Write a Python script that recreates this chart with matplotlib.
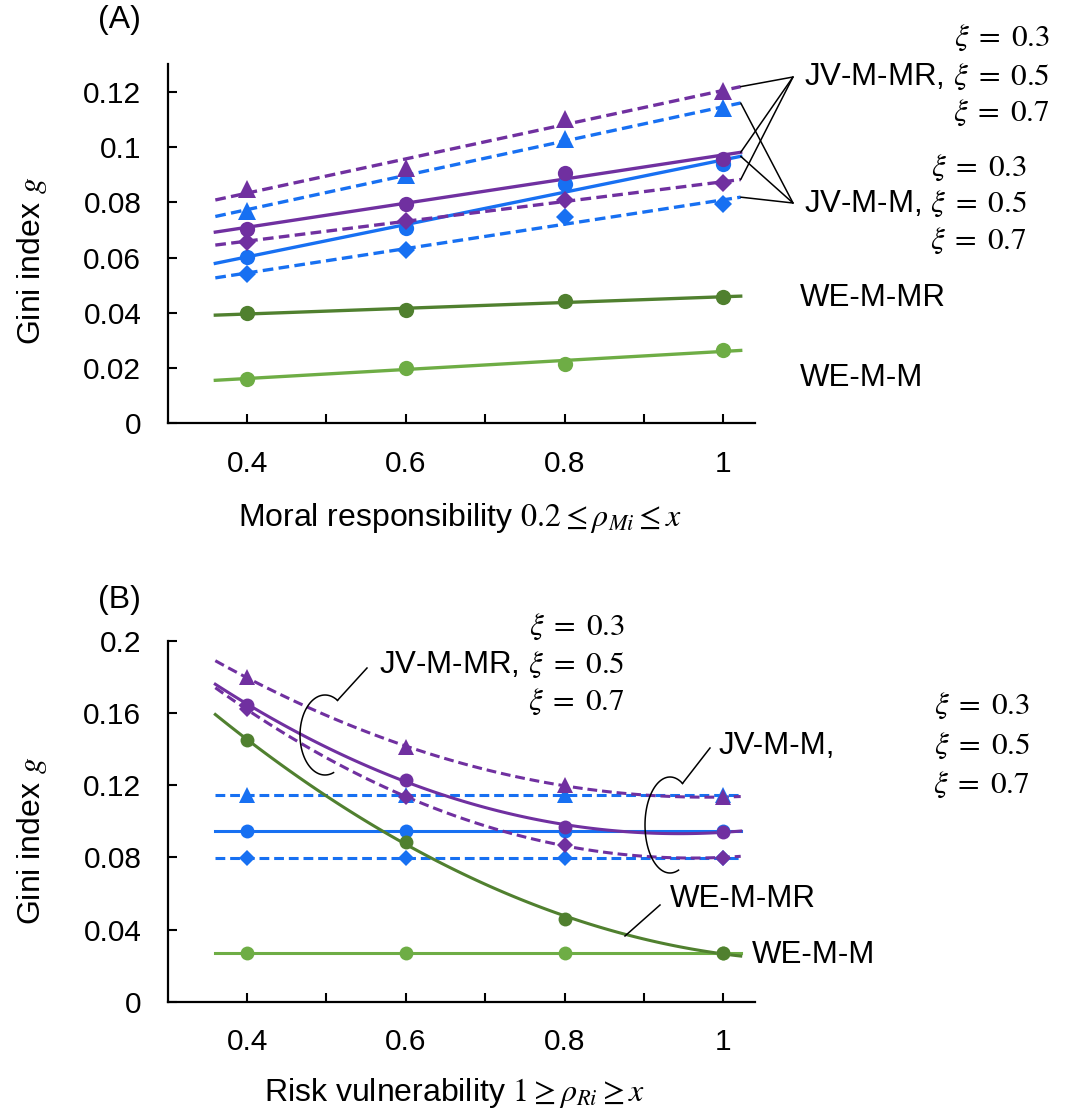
import numpy as np
import matplotlib
matplotlib.use("Agg")
import matplotlib.pyplot as plt
from matplotlib.lines import Line2D

plt.rcParams['font.family'] = ['Liberation Sans', 'DejaVu Sans']
plt.rcParams['mathtext.fontset'] = 'stix'

W, H = 1070, 1110

x_pts = [0.4, 0.6, 0.8, 1.0]

# (A) Gini index against moral responsibility
a_mr_03 = [0.0848, 0.0926, 0.1101, 0.1203]
a_mr_05 = [0.0704, 0.0794, 0.0908, 0.0957]
a_mr_07 = [0.0656, 0.0734, 0.0809, 0.0870]
a_m_03 = [0.0770, 0.0900, 0.1029, 0.1141]
a_m_05 = [0.0602, 0.0706, 0.0866, 0.0939]
a_m_07 = [0.0539, 0.0628, 0.0746, 0.0794]
a_we_mr = [0.0399, 0.0409, 0.0443, 0.0457]
a_we_m = [0.0162, 0.0202, 0.0214, 0.0267]

# (B) Gini index against risk vulnerability
b_mr_03 = [0.1798, 0.1412, 0.1203, 0.1133]
b_mr_05 = [0.1647, 0.1231, 0.0971, 0.0943]
b_mr_07 = [0.1621, 0.1133, 0.0869, 0.0799]
b_m_03 = [0.1145, 0.1145, 0.1145, 0.1145]
b_m_05 = [0.0944, 0.0944, 0.0944, 0.0944]
b_m_07 = [0.0799, 0.0799, 0.0799, 0.0799]
b_we_mr = [0.1449, 0.0888, 0.0461, 0.0270]
b_we_m = [0.0270, 0.0270, 0.0270, 0.0270]

xtick_vals = [0.4, 0.5, 0.6, 0.7, 0.8, 0.9, 1.0]
xtick_labels = ['0.4', '', '0.6', '', '0.8', '', '1']
a_ytick_vals = [0, 0.02, 0.04, 0.06, 0.08, 0.1, 0.12]
a_ytick_labels = ['0', '0.02', '0.04', '0.06', '0.08', '0.1', '0.12']
b_ytick_vals = [0, 0.04, 0.08, 0.12, 0.16, 0.2]
b_ytick_labels = ['0', '0.04', '0.08', '0.12', '0.16', '0.2']

PURPLE = '#7030A0'
BLUE = '#1770F2'
DKGREEN = '#50802F'
LTGREEN = '#6EAD45'
DASH = (0, (3.2, 1.6))
XI = r'$\xi\;=\;%s$'


def fx(px):
    return px / W


def fy(py):
    return 1 - py / H


def trend(ax, vals, color, marker, ls, deg, ms, lw=2.4):
    coef = np.polyfit(x_pts, vals, deg)
    xs = np.linspace(0.36, 1.022, 120)
    ys = np.polyval(coef, xs)
    ax.plot(xs, ys, color=color, lw=lw, ls=ls, zorder=2)
    ax.plot(x_pts, vals, ls='none', marker=marker, color=color, ms=ms,
            markeredgewidth=0, zorder=3)
    return xs[-1], ys[-1]


def style(ax, yticks, ylabels, ymax):
    for s in ['top', 'right']:
        ax.spines[s].set_visible(False)
    for s in ['left', 'bottom']:
        ax.spines[s].set_linewidth(1.6)
    ax.set_xlim(0.3, 1.04)
    ax.set_ylim(0, ymax)
    ax.set_xticks(xtick_vals)
    ax.set_xticklabels(xtick_labels)
    ax.set_yticks(yticks)
    ax.set_yticklabels(ylabels)
    ax.tick_params(direction='in', length=6.5, width=1.5, labelsize=21.5, pad=19)


fig = plt.figure(figsize=(W / 100, H / 100), dpi=100)
axA = fig.add_axes([fx(167.7), fy(423.3), 587.3 / W, 359 / H])
axB = fig.add_axes([fx(167.7), fy(1001.7), 587.3 / W, 360.7 / H])

# ---- panel A
style(axA, a_ytick_vals, a_ytick_labels, 0.13)
trend(axA, a_we_m, LTGREEN, 'o', '-', 1, 11)
trend(axA, a_we_mr, DKGREEN, 'o', '-', 1, 11)
ends_m = [trend(axA, a_m_07, BLUE, 'D', DASH, 1, 9),
          trend(axA, a_m_05, BLUE, 'o', '-', 1, 11),
          trend(axA, a_m_03, BLUE, '^', DASH, 1, 13)]
ends_mr = [trend(axA, a_mr_07, PURPLE, 'D', DASH, 1, 9),
           trend(axA, a_mr_05, PURPLE, 'o', '-', 1, 11),
           trend(axA, a_mr_03, PURPLE, '^', DASH, 1, 13)]

for e in ends_mr:
    axA.annotate('', xy=e, xytext=(fx(793), fy(77)), textcoords='figure fraction',
                 arrowprops=dict(arrowstyle='-', lw=1.1, color='black',
                                 shrinkA=0, shrinkB=0))
for e in ends_m:
    axA.annotate('', xy=e, xytext=(fx(793), fy(203)), textcoords='figure fraction',
                 arrowprops=dict(arrowstyle='-', lw=1.1, color='black',
                                 shrinkA=0, shrinkB=0))

axA.set_xlabel(r'Moral responsibility $0.2 \leq \rho_{Mi} \leq x$', fontsize=23, va='center')
axA.xaxis.set_label_coords(0.498, -0.264)
axA.set_ylabel(r'Gini index $g$', fontsize=23, va='center', ha='center')
axA.yaxis.set_label_coords(-0.231, 0.452)

fs = 22.5
fig.text(fx(1050), fy(38), XI % '0.3', ha='right', va='center', fontsize=fs)
fig.text(fx(1050), fy(77), 'JV-M-MR, ' + XI % '0.5', ha='right', va='center', fontsize=fs)
fig.text(fx(1050), fy(113), XI % '0.7', ha='right', va='center', fontsize=fs)
fig.text(fx(1027), fy(168), XI % '0.3', ha='right', va='center', fontsize=fs)
fig.text(fx(1027), fy(204), 'JV-M-M, ' + XI % '0.5', ha='right', va='center', fontsize=fs)
fig.text(fx(1027), fy(241), XI % '0.7', ha='right', va='center', fontsize=fs)
fig.text(fx(800), fy(298), 'WE-M-MR', ha='left', va='center', fontsize=fs)
fig.text(fx(800), fy(378), 'WE-M-M', ha='left', va='center', fontsize=fs)
fig.text(fx(119), fy(20), '(A)', ha='center', va='center', fontsize=23)

# ---- panel B
style(axB, b_ytick_vals, b_ytick_labels, 0.2)
trend(axB, b_we_m, LTGREEN, 'o', '-', 1, 10, lw=2.2)
trend(axB, b_m_07, BLUE, 'D', DASH, 1, 8.5, lw=2.2)
trend(axB, b_m_05, BLUE, 'o', '-', 1, 10, lw=2.2)
trend(axB, b_m_03, BLUE, '^', DASH, 1, 12, lw=2.2)
trend(axB, b_mr_07, PURPLE, 'D', DASH, 2, 8.5, lw=2.2)
trend(axB, b_mr_05, PURPLE, 'o', '-', 2, 10, lw=2.2)
trend(axB, b_mr_03, PURPLE, '^', DASH, 2, 12, lw=2.2)
trend(axB, b_we_mr, DKGREEN, 'o', '-', 2, 10, lw=2.2)

axB.set_xlabel(r'Risk vulnerability $1 \geq \rho_{Ri} \geq x$', fontsize=23, va='center')
axB.xaxis.set_label_coords(0.489, -0.253)
axB.set_ylabel(r'Gini index $g$', fontsize=23, va='center', ha='center')
axB.yaxis.set_label_coords(-0.231, 0.445)


def bracket(cx, cy, rx, ry, tip):
    t = np.radians(np.linspace(60, 290, 80))
    px = cx + rx * np.cos(t)
    py = cy - ry * np.sin(t)
    fig.add_artist(Line2D(fx(px), fy(py), transform=fig.transFigure,
                          color='black', lw=1.1))
    fig.add_artist(Line2D([fx(px[0]), fx(tip[0])], [fy(py[0]), fy(tip[1])],
                          transform=fig.transFigure, color='black', lw=1.1))


bracket(325, 735, 25, 40, (367, 668))
bracket(670, 825, 25, 48, (710, 748))
fig.add_artist(Line2D([fx(660), fx(625)], [fy(905), fy(936)],
                      transform=fig.transFigure, color='black', lw=1.1))

fig.text(fx(625), fy(627), XI % '0.3', ha='right', va='center', fontsize=fs)
fig.text(fx(625), fy(665), 'JV-M-MR, ' + XI % '0.5', ha='right', va='center', fontsize=fs)
fig.text(fx(625), fy(702), XI % '0.7', ha='right', va='center', fontsize=fs)
fig.text(fx(1030), fy(706), XI % '0.3', ha='right', va='center', fontsize=fs)
fig.text(fx(719), fy(746), 'JV-M-M,', ha='left', va='center', fontsize=fs)
fig.text(fx(1030), fy(746), XI % '0.5', ha='right', va='center', fontsize=fs)
fig.text(fx(1030), fy(785), XI % '0.7', ha='right', va='center', fontsize=fs)
fig.text(fx(670), fy(899), 'WE-M-MR', ha='left', va='center', fontsize=fs)
fig.text(fx(752), fy(955), 'WE-M-M', ha='left', va='center', fontsize=fs)
fig.text(fx(119), fy(600), '(B)', ha='center', va='center', fontsize=23)

fig.savefig('out.png', dpi=100)
